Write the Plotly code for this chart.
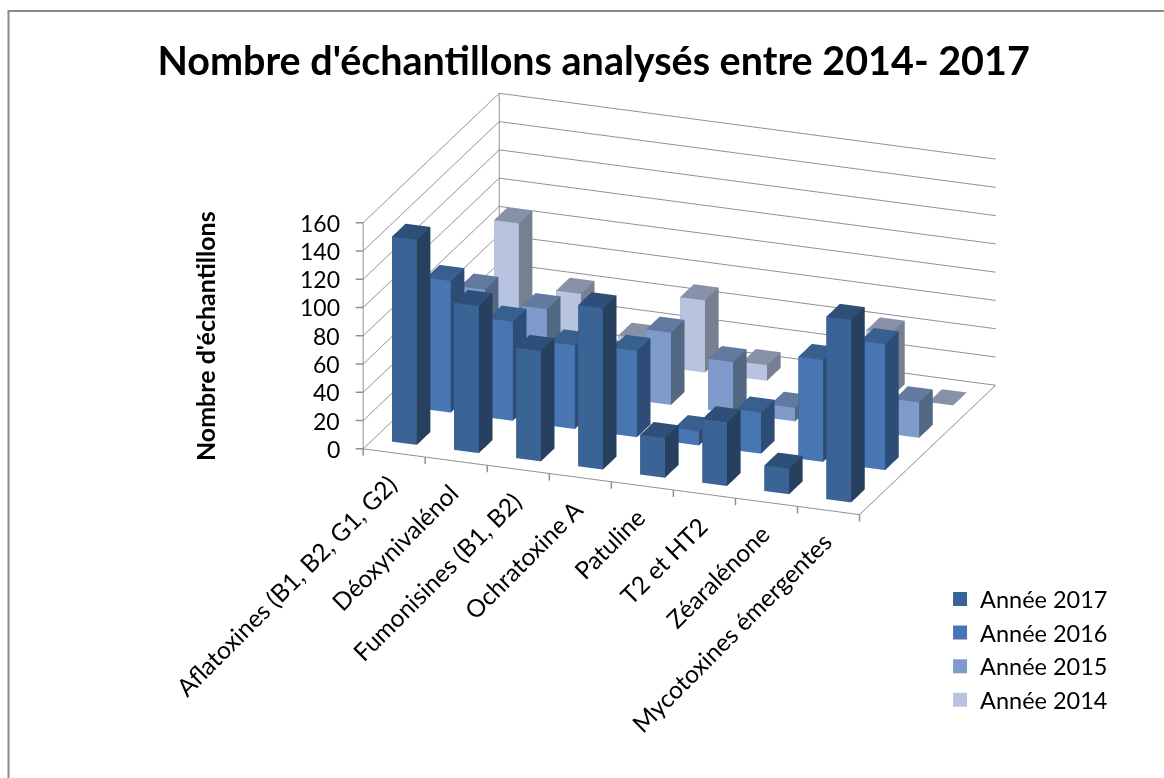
import plotly.graph_objects as go

categories = ["Aflatoxines (B1, B2, G1, G2)", "Déoxynivalénol", "Fumonisines (B1, B2)", "Ochratoxine A",
              "Patuline", "T2 et HT2", "Zéaralénone", "Mycotoxines émergentes"]
series_names = ["Année 2017", "Année 2016", "Année 2015", "Année 2014"]
v2017 = [145, 104, 78, 114, 28, 45, 18, 129]
v2016 = [93, 70, 59, 61, 10, 29, 72, 89]
v2015 = [64, 56, 30, 51, 36, 9.5, 30, 25]
v2014 = [88, 44, 18, 51, 11, 14, 45, 0]
series_values = [v2017, v2016, v2015, v2014]
front = ["#3A6496", "#4776B2", "#7F9BCB", "#B7C3DF"]
top = ["#2E5078", "#38608F", "#627AA0", "#8792A8"]
side = ["#274060", "#2D4D77", "#526781", "#787F93"]
z_ticks = list(range(0, 161, 20))
FONT = "Lato, Carlito, Calibri, sans-serif"
HALF = 0.2
GRID = "#909090"

fig = go.Figure()
for j, vals in enumerate(series_values):
    for i, v in enumerate(vals):
        x0, x1 = i + 0.5 - HALF, i + 0.5 + HALF
        y0, y1 = j + 0.5 - HALF, j + 0.5 + HALF
        xs = [x0, x1, x1, x0, x0, x1, x1, x0]
        ys = [y0, y0, y1, y1, y0, y0, y1, y1]
        zs = [0, 0, 0, 0, v, v, v, v]
        I = [0, 0, 1, 1, 4, 4, 3, 3, 0, 0, 0, 0]
        J = [1, 5, 2, 6, 5, 6, 2, 6, 3, 7, 1, 2]
        K = [5, 4, 6, 5, 6, 7, 6, 7, 7, 4, 2, 3]
        fc = [front[j]] * 2 + [side[j]] * 2 + [top[j]] * 2 + [side[j]] * 4 + [top[j]] * 2
        fig.add_trace(go.Mesh3d(x=xs, y=ys, z=zs, i=I, j=J, k=K, facecolor=fc, flatshading=True,
                                lighting=dict(ambient=1, diffuse=0, specular=0, roughness=1, fresnel=0),
                                hoverinfo="skip", showscale=False, showlegend=False))

# vertical wall edges
for wall_y in (0, 4):
    fig.add_trace(go.Scatter3d(x=[0, 0], y=[wall_y, wall_y], z=[z_ticks[0], z_ticks[-1]], mode="lines",
                               line=dict(color=GRID, width=2), hoverinfo="skip", showlegend=False))

for j, name in enumerate(series_names):
    fig.add_trace(go.Scatter3d(x=[None], y=[None], z=[None], mode="markers", name=name,
                               marker=dict(symbol="square", size=14, color=front[j]), showlegend=True))

annos = [dict(x=i + 0.5, y=0, z=0, text=c, textangle=-45, showarrow=False, xanchor="right", yanchor="top",
              yshift=-14, xshift=11, font=dict(family=FONT, size=24.5, color="black")) for i, c in enumerate(categories)]
annos += [dict(x=0, y=0, z=t, text=str(t), showarrow=False, xanchor="right", yanchor="middle", xshift=-21,
               font=dict(family=FONT, size=23, color="black")) for t in z_ticks]
tick = dict(text="\u00a0", font=dict(size=1), showarrow=True, arrowhead=0, arrowwidth=1.5, arrowcolor=GRID, standoff=0)
annos += [dict(x=0, y=0, z=t, ax=-9, ay=0, **tick) for t in z_ticks]
annos += [dict(x=i, y=0, z=0, ax=0, ay=9, **tick) for i in range(len(categories) + 1)]

dir_eye = (0.327 * 1.02, -0.876 * 1.02, 0.355 * 1.02)
center = (-0.2074, -0.1602, -0.2044)

fig.update_layout(
    width=1164, height=778, margin=dict(l=0, r=0, t=0, b=0), paper_bgcolor="white",
    title=dict(text="<b>Nombre d'échantillons analysés entre 2014- 2017</b>", x=0.51, xanchor="center",
               y=0.922, yanchor="middle", font=dict(family=FONT, size=39.5, color="black")),
    font=dict(family=FONT, color="black"),
    legend=dict(x=0.8076, y=0.258, xanchor="left", yanchor="top", font=dict(size=23.5), bgcolor="rgba(0,0,0,0)",
                itemsizing="trace"),
    annotations=[dict(text="<b>Nombre d'échantillons</b>", xref="paper", yref="paper", x=0.1615, y=0.568,
                      textangle=-90, showarrow=False, font=dict(family=FONT, size=25, color="black"))],
    shapes=[dict(type="rect", xref="paper", yref="paper", x0=8.5 / 1164, x1=1.2, y0=-0.2, y1=1 - 11 / 778,
                 line=dict(color="#8C8C8C", width=2))],
    scene=dict(
        domain=dict(x=[0, 1], y=[0, 1]),
        camera=dict(projection=dict(type="orthographic"),
                    eye=dict(x=dir_eye[0] + center[0], y=dir_eye[1] + center[1], z=dir_eye[2] + center[2]),
                    center=dict(x=center[0], y=center[1], z=center[2]), up=dict(x=0, y=0, z=1)),
        aspectmode="manual", aspectratio=dict(x=1.362, y=1, z=0.622),
        xaxis=dict(range=[0, 8], tickvals=[], showgrid=False, showbackground=False,
                   showline=True, linecolor=GRID, linewidth=2, title="", zeroline=False, showspikes=False),
        yaxis=dict(range=[0, 4], tickvals=[], showgrid=False, showbackground=False, showline=True, linecolor=GRID,
                   linewidth=2, title="", zeroline=False, showspikes=False),
        zaxis=dict(range=[0, 160], tickvals=z_ticks, ticktext=[""] * 9, showgrid=True, gridcolor=GRID, gridwidth=2,
                   showbackground=False, showline=False, ticks="", title="", zeroline=False, showspikes=False),
        annotations=annos,
    ),
)
fig.write_html("out.html", post_script="document.body.style.margin='0';", config=dict(displayModeBar=False))
